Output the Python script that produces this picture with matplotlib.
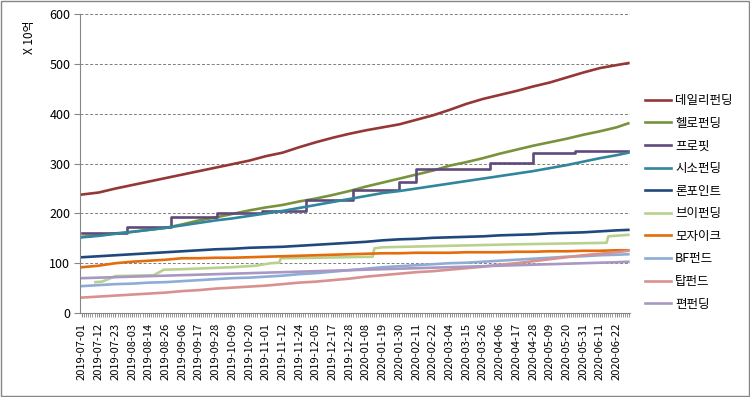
import numpy as np
import matplotlib
matplotlib.use("Agg")
import matplotlib.pyplot as plt
from matplotlib.patches import Rectangle
from matplotlib.ticker import MultipleLocator

plt.rcParams["font.family"] = ["Noto Sans CJK KR", "DejaVu Sans"]

date_labels = [
    "2019-07-01", "2019-07-12", "2019-07-23", "2019-08-03", "2019-08-14",
    "2019-08-26", "2019-09-06", "2019-09-17", "2019-09-28", "2019-10-09",
    "2019-10-20", "2019-11-01", "2019-11-12", "2019-11-24", "2019-12-05",
    "2019-12-17", "2019-12-28", "2020-01-08", "2020-01-19", "2020-01-30",
    "2020-02-11", "2020-02-22", "2020-03-04", "2020-03-15", "2020-03-26",
    "2020-04-06", "2020-04-17", "2020-04-28", "2020-05-09", "2020-05-20",
    "2020-05-31", "2020-06-11", "2020-06-22",
]
last_pos = 32.7  # last data day sits a bit past the last label

# values at each label (x10억), last one is the final day
daily = [238, 242, 250, 257, 264, 271, 278, 285, 292, 299, 306, 315, 322, 333, 343, 352, 360,
         367, 373, 379, 388, 397, 408, 420, 430, 438, 446, 455, 463, 473, 483, 492, 498, 502]
hello = [153, 156, 160, 163, 167, 171, 178, 186, 192, 199, 206, 212, 217, 224, 230, 237, 245,
         254, 262, 270, 278, 286, 296, 303, 311, 320, 328, 336, 343, 350, 358, 365, 373, 381]
seeso = [152, 155, 159, 163, 167, 171, 176, 181, 186, 190, 195, 200, 205, 211, 217, 223, 229,
         235, 241, 245, 250, 255, 260, 265, 270, 275, 280, 285, 291, 297, 304, 311, 317, 322]
lone = [112, 114, 116, 118, 120, 122, 124, 126, 128, 129, 131, 132, 133, 135, 137, 139, 141,
        143, 146, 148, 149, 151, 152, 153, 154, 156, 157, 158, 160, 161, 162, 164, 166, 167]
mosaic = [92, 95, 100, 103, 105, 107, 110, 110, 111, 111, 112, 113, 114, 115, 116, 117, 118,
          119, 120, 120, 121, 121, 121, 122, 122, 122, 123, 123, 124, 124, 125, 125, 126, 126]
bf = [54, 56, 58, 59, 61, 62, 64, 66, 68, 70, 71, 73, 75, 78, 80, 83, 86,
      89, 92, 94, 96, 98, 100, 101, 103, 105, 107, 109, 111, 113, 114, 116, 117, 118]
top = [31, 33, 35, 37, 39, 41, 44, 46, 49, 51, 53, 55, 58, 61, 63, 66, 69,
       73, 76, 79, 82, 84, 87, 90, 93, 97, 100, 104, 108, 112, 116, 119, 122, 125]
fun = [70, 71, 72, 73, 74, 75, 76, 77, 78, 79, 80, 81, 82, 83, 84, 85, 86,
       87, 88, 89, 90, 91, 92, 93, 94, 95, 96, 97, 98, 99, 100, 101, 102, 103]

# stepwise series: (position in label units, value)
profit_pos = [0, 2.7, 5.3, 8.1, 10.8, 13.4, 16.2, 19.0, 20.0, 24.4, 27.0, 29.5, 32.7]
profit_val = [160, 172, 193, 200, 205, 227, 248, 263, 290, 302, 321, 325, 325]
v_pos = [0.8, 1.2, 2.0, 4.3, 4.9, 6.0, 7.5, 9.0, 10.4, 11.3, 11.8, 11.9, 14.0, 17.4, 17.5,
         18.0, 22.0, 26.0, 31.4, 31.5, 32.7]
v_val = [62, 63, 74, 76, 87, 88, 90, 92, 95, 100, 101, 110, 111, 113, 130,
         132, 135, 138, 141, 154, 157]

x = np.r_[np.arange(len(date_labels)), last_pos]

fig = plt.figure(figsize=(7.5, 3.97), dpi=100)
ax = fig.add_axes([80 / 750, 1 - 313 / 397, 550 / 750, (313 - 14.3) / 397])

lw = 1.9
ax.plot(x, daily, color="#953735", lw=lw, label="데일리펀딩")
ax.plot(x, hello, color="#77933C", lw=lw, label="헬로펀딩")
ax.plot(profit_pos, profit_val, color="#604A7B", lw=lw, drawstyle="steps-post", label="프로핏")
ax.plot(x, seeso, color="#31859C", lw=lw, label="시소펀딩")
ax.plot(x, lone, color="#1F497D", lw=lw, label="론포인트")
ax.plot(v_pos, v_val, color="#B9D18F", lw=lw, label="브이펀딩")
ax.plot(x, mosaic, color="#E46C0A", lw=lw, label="모자이크")
ax.plot(x, bf, color="#8EADD6", lw=lw, label="BF펀드")
ax.plot(x, top, color="#D9918F", lw=lw, label="탑펀드")
ax.plot(x, fun, color="#A898C2", lw=lw, label="편펀딩")

ax.set_xlim(-0.12, 32.8)
ax.set_ylim(0, 600)
ax.set_yticks(range(0, 601, 100))
ax.set_xticks(range(len(date_labels)))
ax.set_xticklabels(date_labels, rotation=90, fontsize=8)
ax.xaxis.set_minor_locator(MultipleLocator(0.125))
ax.tick_params(axis="x", which="major", length=3, color="#868686", pad=4)
ax.tick_params(axis="x", which="minor", length=3, color="#868686")
ax.tick_params(axis="y", length=4, color="#868686", labelsize=9, pad=3)

for v in range(100, 601, 100):
    ax.axhline(v, color="#7F7F7F", lw=0.7, ls=(0, (3, 2)), zorder=0)

for s in ["top", "right"]:
    ax.spines[s].set_visible(False)
for s in ["left", "bottom"]:
    ax.spines[s].set_color("#868686")

fig.text(29 / 750, 1 - 37 / 397, "X 10억", rotation=90, ha="center", va="center", fontsize=8.5)

ax.legend(loc="upper left", bbox_to_anchor=(645 / 750, 1 - 94 / 397),
          bbox_transform=fig.transFigure, frameon=False, fontsize=9,
          handlelength=2.1, handletextpad=0.3, labelspacing=0.77,
          borderpad=0, borderaxespad=0)

fig.add_artist(Rectangle((0.001, 0.002), 0.997, 0.996, transform=fig.transFigure,
                         fill=False, edgecolor="#868686", lw=1))

fig.savefig("out.png", dpi=100)
